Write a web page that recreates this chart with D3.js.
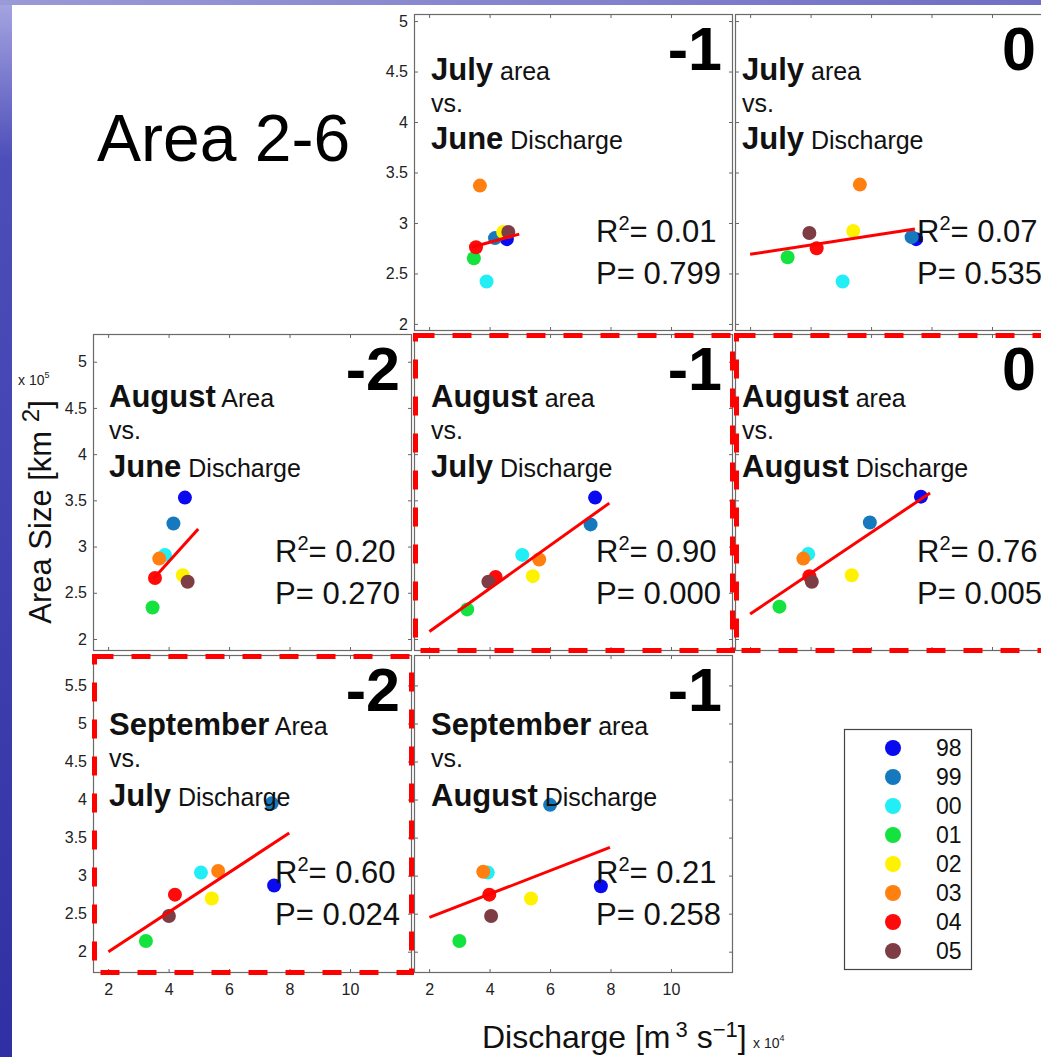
<!DOCTYPE html>
<html>
<head>
<meta charset="utf-8">
<script src="https://cdn.jsdelivr.net/npm/d3@7"></script>
<style>
body { margin: 0; background: #fff; overflow: hidden; }
svg { display: block; font-family: "Liberation Sans", Arial, sans-serif; }
</style>
</head>
<body>
<script>
// years, in the order used by every value array below
var years = ["98", "99", "00", "01", "02", "03", "04", "05"];

// discharge (x 10^4 m3/s) and area size (x 10^5 km2), one value per year
var qJunForJul = [4.57, 4.18, 3.90, 3.48, 4.45, 3.68, 3.55, 4.62];
var areaJul1   = [2.84, 2.85, 2.42, 2.65, 2.91, 3.37, 2.76, 2.91];
var qJulForJul = [7.49, 7.34, 5.06, 3.24, 5.41, 5.63, 4.20, 3.96];
var areaJul2   = [2.84, 2.86, 2.42, 2.66, 2.92, 3.38, 2.75, 2.90];
var qJunForAug = [4.54, 4.16, 3.88, 3.47, 4.47, 3.69, 3.55, 4.63];
var areaAug1   = [3.53, 3.25, 2.91, 2.34, 2.69, 2.87, 2.66, 2.62];
var qJulForAug = [7.49, 7.34, 5.08, 3.26, 5.43, 5.64, 4.20, 3.96];
var areaAug2   = [3.53, 3.24, 2.91, 2.32, 2.68, 2.86, 2.67, 2.62];
var qAugForAug = [7.65, 5.96, 3.92, 2.97, 5.36, 3.76, 3.96, 4.04];
var areaAug3   = [3.54, 3.26, 2.92, 2.35, 2.69, 2.87, 2.68, 2.62];
var qJulForSep = [7.49, 7.41, 5.07, 3.25, 5.43, 5.64, 4.21, 4.01];
var areaSep1   = [2.87, 3.95, 3.04, 2.14, 2.70, 3.06, 2.75, 2.47];
var qAugForSep = [7.68, 6.00, 3.94, 3.00, 5.37, 3.79, 3.99, 4.05];
var areaSep2   = [2.86, 3.93, 3.04, 2.14, 2.70, 3.05, 2.75, 2.47];

// fitted lines: [x start, y start, x end, y end]
var fitJulJun = [3.41, 2.76, 4.98, 2.89];
var fitJulJul = [2.00, 2.69, 7.45, 2.94];
var fitAugJun = [3.52, 2.66, 4.98, 3.19];
var fitAugJul = [2.01, 2.08, 7.96, 3.47];
var fitAugAug = [2.00, 2.27, 7.95, 3.58];
var fitSepJul = [2.01, 2.00, 7.99, 3.56];
var fitSepAug = [2.01, 2.45, 7.98, 3.37];

var r2Values  = ["0.01", "0.07", "0.20", "0.90", "0.76", "0.60", "0.21"];
var pValues   = ["0.799", "0.535", "0.270", "0.000", "0.005", "0.024", "0.258"];
var lagLabels = ["-1", "0", "-2", "-1", "0", "-2", "-1"];

// axis ticks
var xTicks = [2, 4, 6, 8, 10];
var yTicksTop = [2, 2.5, 3, 3.5, 4, 4.5, 5];
var yTicksMid = [2, 2.5, 3, 3.5, 4, 4.5, 5];
var yTicksLow = [2, 2.5, 3, 3.5, 4, 4.5, 5, 5.5];

// layout
var W = 1041, H = 1057;
var colLeft = [93, 414, 735], panelW = 319;
var rowTop = [14, 334, 655], rowH = [317, 317, 318];
var xDomain = [1.5, 12.05];
var yDomains = [[1.93, 5.07], [1.87, 5.30], [1.72, 5.90]];
var yTickSets = [yTicksTop, yTicksMid, yTicksLow];
var titleBase = [[66, 98, 135], [73, 105, 143], [80, 112, 151]];
var titleInset = [16, 17, 7];
var lagInset = [12, 11, 18];

var yearColor = d3.scaleOrdinal().domain(years)
  .range(["#0a0af0", "#1679bd", "#22eef6", "#14e23e", "#fff200", "#ff8010", "#ff0a0a", "#7e3d45"]);

var panels = [
  {row: 0, col: 1, q: qJunForJul, a: areaJul1, fit: fitJulJun, m1: "July", w1: "area", m2: "June", yLab: true, xLab: false, hl: false},
  {row: 0, col: 2, q: qJulForJul, a: areaJul2, fit: fitJulJul, m1: "July", w1: "area", m2: "July", yLab: false, xLab: false, hl: false},
  {row: 1, col: 0, q: qJunForAug, a: areaAug1, fit: fitAugJun, m1: "August", w1: "Area", m2: "June", yLab: true, xLab: false, hl: false},
  {row: 1, col: 1, q: qJulForAug, a: areaAug2, fit: fitAugJul, m1: "August", w1: "area", m2: "July", yLab: false, xLab: false, hl: true},
  {row: 1, col: 2, q: qAugForAug, a: areaAug3, fit: fitAugAug, m1: "August", w1: "area", m2: "August", yLab: false, xLab: false, hl: true},
  {row: 2, col: 0, q: qJulForSep, a: areaSep1, fit: fitSepJul, m1: "September", w1: "Area", m2: "July", yLab: true, xLab: true, hl: true},
  {row: 2, col: 1, q: qAugForSep, a: areaSep2, fit: fitSepAug, m1: "September", w1: "area", m2: "August", yLab: false, xLab: true, hl: false}
];

var svg = d3.select("body").append("svg").attr("width", W).attr("height", H);

// slide background: blue strips on the left and top
var defs = svg.append("defs");
var sideGrad = defs.append("linearGradient").attr("id", "side")
  .attr("x1", 0).attr("y1", 0).attr("x2", 0).attr("y2", 1);
sideGrad.append("stop").attr("offset", "0%").attr("stop-color", "#a6a6e2");
sideGrad.append("stop").attr("offset", "15%").attr("stop-color", "#4e4eba");
sideGrad.append("stop").attr("offset", "100%").attr("stop-color", "#3030a4");
var topGrad = defs.append("linearGradient").attr("id", "topg")
  .attr("x1", 0).attr("y1", 0).attr("x2", 1).attr("y2", 0);
topGrad.append("stop").attr("offset", "0%").attr("stop-color", "#9a9ad8");
topGrad.append("stop").attr("offset", "100%").attr("stop-color", "#6f6fc4");

svg.append("rect").attr("width", W).attr("height", H).attr("fill", "url(#side)");
svg.append("rect").attr("width", W).attr("height", 5).attr("fill", "url(#topg)");
svg.append("rect").attr("x", 12).attr("y", 5).attr("width", W - 12).attr("height", H - 5).attr("fill", "#fff");

svg.append("text").attr("x", 97).attr("y", 161)
  .attr("font-size", 66).attr("fill", "#000").text("Area 2-6");

function styleAxis(sel) {
  sel.attr("font-size", 16).attr("font-family", null);
  sel.select(".domain").remove();
  sel.selectAll(".tick line").attr("stroke", "#666");
  sel.selectAll(".tick text").attr("fill", "#222");
}

var line = d3.line().x(function(d) { return d[0]; }).y(function(d) { return d[1]; });

panels.forEach(function(p, k) {
  var x0 = colLeft[p.col], y0 = rowTop[p.row], h = rowH[p.row];
  var x = d3.scaleLinear().domain(xDomain).range([x0, x0 + panelW]);
  var y = d3.scaleLinear().domain(yDomains[p.row]).range([y0 + h, y0]);
  var g = svg.append("g");

  g.append("rect").attr("x", x0 + 0.5).attr("y", y0 + 0.5)
    .attr("width", panelW - 1).attr("height", h - 1)
    .attr("fill", "none").attr("stroke", "#6a6a6a").attr("stroke-width", 1.2);

  g.append("g").attr("transform", "translate(0," + (y0 + h) + ")")
    .call(d3.axisBottom(x).tickValues(xTicks).tickSize(-4).tickPadding(11)
      .tickFormat(p.xLab ? d3.format("d") : ""))
    .call(styleAxis);
  g.append("g").attr("transform", "translate(0," + y0 + ")")
    .call(d3.axisTop(x).tickValues(xTicks).tickSize(-4).tickFormat(""))
    .call(styleAxis);
  g.append("g").attr("transform", "translate(" + x0 + ",0)")
    .call(d3.axisLeft(y).tickValues(yTickSets[p.row]).tickSize(-4).tickPadding(6)
      .tickFormat(p.yLab ? d3.format("~g") : ""))
    .call(styleAxis);
  g.append("g").attr("transform", "translate(" + (x0 + panelW) + ",0)")
    .call(d3.axisRight(y).tickValues(yTickSets[p.row]).tickSize(-4).tickFormat(""))
    .call(styleAxis);

  var pts = p.q.map(function(v, i) { return {q: v, a: p.a[i], yr: years[i]}; });
  g.selectAll("circle.pt").data(pts).enter().append("circle")
    .attr("class", "pt")
    .attr("cx", function(d) { return x(d.q); })
    .attr("cy", function(d) { return y(d.a); })
    .attr("r", 7)
    .attr("fill", function(d) { return yearColor(d.yr); });

  g.append("path")
    .attr("d", line([[x(p.fit[0]), y(p.fit[1])], [x(p.fit[2]), y(p.fit[3])]]))
    .attr("stroke", "#ff0000").attr("stroke-width", 3).attr("fill", "none");

  // title lines
  var tx = x0 + titleInset[p.col], tb = titleBase[p.row];
  var t1 = g.append("text").attr("x", tx).attr("y", y0 + tb[0]).attr("fill", "#111");
  t1.append("tspan").attr("font-size", 31).attr("font-weight", "bold").text(p.m1);
  t1.append("tspan").attr("font-size", 25).text(" " + p.w1);
  g.append("text").attr("x", tx).attr("y", y0 + tb[1]).attr("fill", "#111")
    .attr("font-size", 25).text("vs.");
  var t3 = g.append("text").attr("x", tx).attr("y", y0 + tb[2]).attr("fill", "#111");
  t3.append("tspan").attr("font-size", 31).attr("font-weight", "bold").text(p.m2);
  t3.append("tspan").attr("font-size", 25).text(" Discharge");

  // lag number
  g.append("text").attr("x", x0 + panelW - lagInset[p.col]).attr("y", y0 + 56)
    .attr("text-anchor", "end").attr("font-size", 61).attr("font-weight", "bold")
    .attr("fill", "#000").text(lagLabels[k]);

  // statistics
  var sx = x0 + 182;
  var r = g.append("text").attr("x", sx).attr("y", y0 + 228).attr("font-size", 31).attr("fill", "#111");
  r.append("tspan").text("R");
  r.append("tspan").attr("font-size", 20).attr("dy", -12).text("2");
  r.append("tspan").attr("dy", 12).text("= " + r2Values[k]);
  g.append("text").attr("x", sx).attr("y", y0 + 270).attr("font-size", 31).attr("fill", "#111")
    .text("P= " + pValues[k]);

  p.box = [x0, y0, panelW, h];
});

// highlighted panels: red dashed frame
panels.filter(function(p) { return p.hl; }).forEach(function(p) {
  svg.append("rect")
    .attr("x", p.box[0] + 1.5).attr("y", p.box[1] + 1.5)
    .attr("width", p.box[2] - 2).attr("height", p.box[3] - 2)
    .attr("fill", "none").attr("stroke", "#ff0000").attr("stroke-width", 5)
    .attr("stroke-dasharray", "19,18");
});

// legend
var lg = svg.append("g");
lg.append("rect").attr("x", 844.5).attr("y", 729.5).attr("width", 127).attr("height", 240)
  .attr("fill", "#fff").attr("stroke", "#444").attr("stroke-width", 1.2);
var legY = d3.scalePoint().domain(years).range([748, 951]);
var item = lg.selectAll("g.item").data(years).enter().append("g")
  .attr("transform", function(d) { return "translate(0," + legY(d) + ")"; });
item.append("circle").attr("cx", 893).attr("r", 8).attr("fill", function(d) { return yearColor(d); });
item.append("text").attr("x", 936).attr("dy", "0.36em").attr("font-size", 23).attr("fill", "#111")
  .text(function(d) { return d; });

// axis titles
var yl = svg.append("text").attr("transform", "translate(51,512) rotate(-90)")
  .attr("text-anchor", "middle").attr("font-size", 31).attr("fill", "#111");
yl.append("tspan").text("Area Size [km ");
yl.append("tspan").attr("font-size", 24).attr("dy", -12).text("2");
yl.append("tspan").attr("dy", 12).text("]");

var ex5 = svg.append("text").attr("x", 18).attr("y", 385).attr("font-size", 14).attr("fill", "#222");
ex5.append("tspan").text("x 10");
ex5.append("tspan").attr("font-size", 9).attr("dy", -7).text("5");

var xl = svg.append("text").attr("x", 482).attr("y", 1048).attr("font-size", 32).attr("fill", "#111");
xl.append("tspan").text("Discharge [m");
xl.append("tspan").attr("font-size", 22).attr("dx", 5).attr("dy", -11).text("3");
xl.append("tspan").attr("dy", 11).text(" s");
xl.append("tspan").attr("font-size", 22).attr("dy", -11).text("\u22121");
xl.append("tspan").attr("dy", 11).text("]");

var ex4 = svg.append("text").attr("x", 753).attr("y", 1048).attr("font-size", 14).attr("fill", "#222");
ex4.append("tspan").text("x 10");
ex4.append("tspan").attr("font-size", 9).attr("dy", -7).text("4");
</script>
</body>
</html>
